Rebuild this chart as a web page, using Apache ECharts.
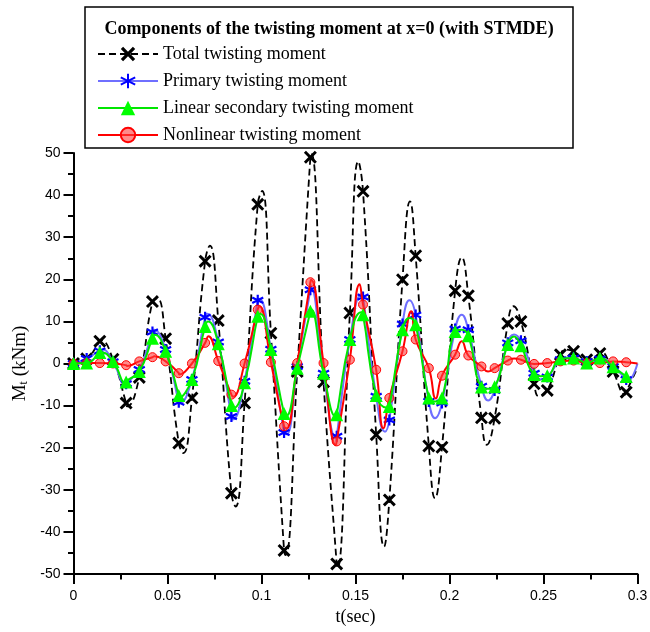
<!DOCTYPE html>
<html><head><meta charset="utf-8">
<script src="https://cdn.jsdelivr.net/npm/echarts/dist/echarts.min.js"></script>
<style>html,body{margin:0;padding:0;background:#fff}#c{width:650px;height:632px}</style>
</head><body><div id="c"></div>
<script>
const legendTitle = 'Components of the twisting moment at x=0 (with STMDE)';
const seriesNames = ['Total twisting moment', 'Primary twisting moment', 'Linear secondary twisting moment', 'Nonlinear twisting moment'];
const xTickLabels = ['0', '0.05', '0.1', '0.15', '0.2', '0.25', '0.3'];
const yTickLabels = ['-50', '-40', '-30', '-20', '-10', '0', '10', '20', '30', '40', '50'];

// sample times of the plotted markers (s)
const markerT = [0,0.007,0.014,0.021,0.028,0.035,0.042,0.049,0.056,0.063,0.07,0.077,0.084,0.091,0.098,0.105,0.112,0.119,0.126,0.133,0.14,0.147,0.154,0.161,0.168,0.175,0.182,0.189,0.196,0.203,0.21,0.217,0.224,0.231,0.238,0.245,0.252,0.259,0.266,0.273,0.28,0.287,0.294];

// marker values (kNm)
const totalMarks = [0,1.1,5.3,1.0,-9.4,-3.3,14.7,5.9,-18.9,-8.2,24.3,10.2,-30.8,-9.4,37.8,7.2,-44.4,-1.9,49.0,-4.4,-47.6,12.0,40.9,-16.9,-32.4,19.9,25.6,-19.6,-19.9,17.3,16.1,-12.9,-13.0,9.5,10.0,-4.8,-6.4,2.1,2.9,0.9,2.4,-1.9,-6.8];
const primaryMarks = [0,1.2,3.0,0.4,-4.8,-1.4,7.5,3.3,-9.2,-3.8,11.0,5.1,-12.6,-4.2,15.0,3.4,-16.4,-0.7,17.5,-2.3,-17.3,5.7,15.8,-7.8,-13.4,9.4,11.5,-9.0,-9.4,8.2,8.0,-5.4,-6.4,4.9,5.4,-2.3,-3.2,0.9,1.3,0.5,1.1,-0.7,-3.8];
const linearMarks = [0,0.1,2.6,0.5,-4.4,-1.9,6.0,2.9,-7.6,-3.8,8.8,4.7,-10.0,-4.6,11.2,3.3,-11.9,-1.1,12.4,-2.3,-12.2,5.7,11.6,-7.6,-10.2,8.0,9.2,-8.2,-8.2,7.6,6.6,-5.6,-5.5,4.5,4.2,-2.6,-2.9,1.1,1.3,0.1,1.3,-0.8,-3.1];
const nonlinearMarks = [0,0.1,0.1,0,-0.4,0.5,1.5,0.5,-2.3,0,4.9,0.6,-7.4,0,12.8,0.3,-14.9,0.1,19.3,0.1,-18.5,0.9,14.0,-1.5,-8.2,2.9,5.7,-1.1,-2.9,2.1,1.9,-0.7,-1.1,0.7,0.9,-0.1,0.1,0.5,0.7,0.1,0.1,0.5,0.3];

// extra curve points (peaks / troughs / end)
const totalExtT = [0.0145,0.0285,0.0445,0.0584,0.0725,0.0862,0.1003,0.1128,0.1265,0.1404,0.1515,0.1652,0.179,0.1923,0.2065,0.2198,0.234,0.2476,0.2615,0.2805,0.2935,0.3];
const totalExtV = [5.6,-10.2,15.5,-21.3,28.0,-34.0,41.0,-45.5,49.8,-48.5,48.0,-43.5,38.5,-32.0,25.2,-19.3,13.6,-7.8,3.3,2.8,-7.4,-1.0];
const primaryExtT = [0.0152,0.0278,0.0426,0.0562,0.0711,0.0847,0.0988,0.1133,0.1263,0.1397,0.1533,0.1657,0.1787,0.1923,0.2065,0.2206,0.2343,0.2481,0.2625,0.2805,0.2946,0.3];
const primaryExtV = [3.4,-5.0,8.0,-9.5,11.8,-13.3,15.4,-16.8,18.0,-17.6,16.5,-16.2,15.0,-13.0,11.6,-8.8,6.9,-3.8,1.4,1.4,-4.3,0];
const linearExtT = [0.0145,0.0278,0.0432,0.0562,0.0715,0.085,0.0992,0.1132,0.1263,0.1398,0.153,0.1668,0.1787,0.1923,0.2065,0.2205,0.2343,0.2485];
const linearExtV = [2.7,-4.8,6.8,-8.2,10.0,-10.6,11.8,-12.4,12.9,-12.7,12.2,-10.5,10.8,-9.0,8.0,-6.0,6.4,-3.0];
const nonlinearExtT = [0.0285,0.043,0.0562,0.0717,0.0848,0.0989,0.1133,0.1263,0.1395,0.1522,0.1648,0.1797,0.1927,0.2065,0.2205,0.2345,0.3];
const nonlinearExtV = [-0.6,1.7,-2.6,6.5,-7.9,13.6,-15.4,19.9,-19.4,18.8,-15.4,12.4,-8.3,5.3,-1.9,1.2,0];

function build(marks, extT, extV) {
  const pts = markerT.map((t, i) => ({ value: [t, marks[i]] }));
  extT.forEach((t, i) => pts.push({ value: [t, extV[i]], symbol: 'none' }));
  pts.sort((a, b) => a.value[0] - b.value[0]);
  return pts;
}

const X_SYM = 'path://M0,1.6L1.6,0L5,3.4L8.4,0L10,1.6L6.6,5L10,8.4L8.4,10L5,6.6L1.6,10L0,8.4L3.4,5Z';
const STAR_SYM = 'path://M5,0L5,10M0.67,2.5L9.33,7.5M0.67,7.5L9.33,2.5';
const SERIF = '"Liberation Serif", "Times New Roman", serif';
const SANS = '"Liberation Sans", Arial, sans-serif';

const chart = echarts.init(document.getElementById('c'), null, { renderer: 'canvas' });
chart.setOption({
  animation: false,
  backgroundColor: '#fff',
  grid: { left: 73.5, right: 12.5, top: 153, bottom: 58, containLabel: false, outerBoundsMode: 'none' },
  graphic: [
    { type: 'rect', z: 1, shape: { x: 85, y: 7, width: 488, height: 141 },
      style: { fill: '#fff', stroke: '#000', lineWidth: 1.5 } },
    { type: 'text', z: 2, x: 329, y: 29,
      style: { text: legendTitle, font: 'bold 18px ' + SERIF, textAlign: 'center', textVerticalAlign: 'middle', fill: '#000' } }
  ],
  legend: {
    z: 20, top: 40, left: 92, orient: 'vertical', itemWidth: 60, itemHeight: 18, itemGap: 9,
    selectedMode: false,
    textStyle: { fontFamily: SERIF, fontSize: 18, color: '#000' },
    data: seriesNames
  },
  xAxis: {
    type: 'value', min: 0, max: 0.3, interval: 0.05,
    axisLine: { show: true, onZero: false, lineStyle: { color: '#000', width: 2 } },
    axisTick: { show: true, length: 10, lineStyle: { color: '#000', width: 2 } },
    minorTick: { show: true, splitNumber: 2, length: 5.5, lineStyle: { color: '#000', width: 2 } },
    splitLine: { show: false }, minorSplitLine: { show: false },
    axisLabel: { margin: 15, fontFamily: SANS, fontSize: 14, color: '#000',
      formatter: v => xTickLabels[Math.round(v / 0.05)] },
    name: 't(sec)', nameLocation: 'middle', nameGap: 26,
    nameTextStyle: { fontFamily: SERIF, fontSize: 18, color: '#000' }
  },
  yAxis: {
    type: 'value', min: -50, max: 50, interval: 10,
    axisLine: { show: true, onZero: false, lineStyle: { color: '#000', width: 2 } },
    axisTick: { show: true, length: 10, lineStyle: { color: '#000', width: 2 } },
    minorTick: { show: true, splitNumber: 2, length: 5.5, lineStyle: { color: '#000', width: 2 } },
    splitLine: { show: false }, minorSplitLine: { show: false },
    axisLabel: { margin: 13, fontFamily: SANS, fontSize: 14, color: '#000',
      formatter: v => yTickLabels[Math.round((v + 50) / 10)] },
    name: '{m|M}{s|t}{m| (kNm)}', nameLocation: 'middle', nameGap: 40, nameRotate: 90,
    nameTextStyle: {
      rich: {
        m: { fontFamily: SERIF, fontSize: 19, color: '#000', lineHeight: 22, verticalAlign: 'bottom' },
        s: { fontFamily: SERIF, fontSize: 12, color: '#000', lineHeight: 12, verticalAlign: 'bottom' }
      }
    }
  },
  series: [
    { name: seriesNames[0], type: 'line', z: 2, smooth: 0.5, data: build(totalMarks, totalExtT, totalExtV),
      symbol: X_SYM, symbolSize: 13, showAllSymbol: true,
      itemStyle: { color: '#000' },
      lineStyle: { color: '#000', width: 1.8, type: [7, 4] },
      emphasis: { disabled: true } },
    { name: seriesNames[1], type: 'line', z: 3, smooth: 0.5, data: build(primaryMarks, primaryExtT, primaryExtV),
      symbol: STAR_SYM, symbolSize: 11, showAllSymbol: true,
      itemStyle: { color: '#0000ff', borderColor: '#0000ff', borderWidth: 2.2 },
      lineStyle: { color: '#6f6fff', width: 2 },
      emphasis: { disabled: true } },
    { name: seriesNames[3], type: 'line', z: 4, smooth: 0.5, data: build(nonlinearMarks, nonlinearExtT, nonlinearExtV),
      symbol: 'circle', symbolSize: 9, showAllSymbol: true,
      itemStyle: { color: 'rgba(255,60,60,0.6)', borderColor: '#ff0000', borderWidth: 1 },
      lineStyle: { color: '#ff0000', width: 2 },
      emphasis: { disabled: true } },
    { name: seriesNames[2], type: 'line', z: 5, smooth: 0.5, data: build(linearMarks, linearExtT, linearExtV),
      symbol: 'triangle', symbolSize: 13, showAllSymbol: true,
      itemStyle: { color: '#00ff00' },
      lineStyle: { color: '#00e600', width: 2 },
      emphasis: { disabled: true } }
  ]
});
</script>
</body></html>
